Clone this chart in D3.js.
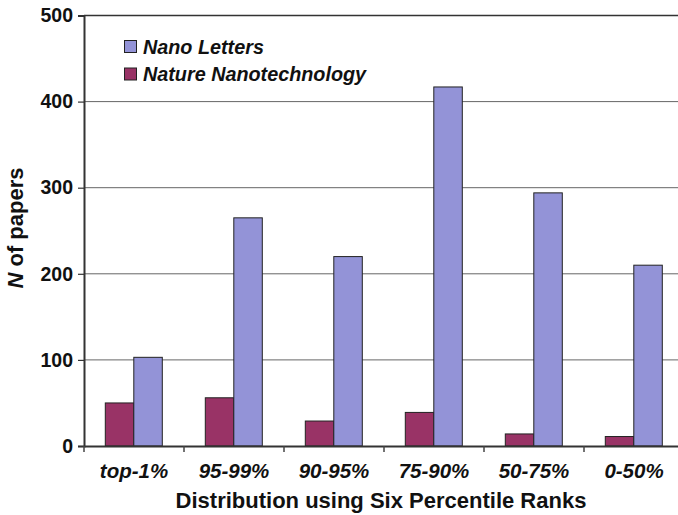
<!DOCTYPE html>
<html><head><meta charset="utf-8">
<script src="https://cdn.jsdelivr.net/npm/d3@7/dist/d3.min.js"></script>
<style>body{margin:0;background:#fff}svg{display:block;font-family:"Liberation Sans",Arial,sans-serif}</style>
</head><body>
<script>
const categories = ["top-1%","95-99%","90-95%","75-90%","50-75%","0-50%"];
const seriesNames = ["Nature Nanotechnology","Nano Letters"];
const natureNano = [50,56,29,39,14,11];
const nanoLetters = [103,265,220,417,294,210];
const yTicks = [0,100,200,300,400,500];
const colors = {"Nano Letters":"#9393d7","Nature Nanotechnology":"#993366"};

const W=678,H=515;
const m={left:84,top:15.5,right:-6,bottom:69};
const svg=d3.select("body").append("svg").attr("width",W).attr("height",H);
const x=d3.scaleBand().domain(categories).range([m.left,W-m.right]);
const y=d3.scaleLinear().domain([0,500]).range([H-m.bottom,m.top]);
const inner=d3.scaleBand().domain(seriesNames).range([21.3,21.3+57]);

// grid
svg.append("g").selectAll("line").data(yTicks.filter(d=>d>0)).join("line")
  .attr("x1",m.left).attr("x2",W).attr("y1",d=>y(d)).attr("y2",d=>y(d))
  .attr("stroke",d=>d===500?"#333":"#666").attr("stroke-width",d=>d===500?1.6:1);

const data=categories.map((c,i)=>({c,vals:[{s:"Nature Nanotechnology",v:natureNano[i]},{s:"Nano Letters",v:nanoLetters[i]}]}));
const g=svg.append("g");
data.forEach(d=>{
  d.vals.forEach(b=>{
    g.append("rect").attr("x",x(d.c)+inner(b.s)).attr("width",inner.bandwidth())
      .attr("y",y(b.v)).attr("height",y(0)-y(b.v))
      .attr("fill",colors[b.s]).attr("stroke","#222").attr("stroke-width",1);
  });
});

// y axis
const ya=svg.append("g").attr("transform",`translate(${m.left},0)`)
  .call(d3.axisLeft(y).tickValues(yTicks).tickSize(6).tickPadding(5));
ya.select(".domain").attr("stroke","#333").attr("stroke-width",2);
ya.selectAll(".tick line").attr("stroke","#333").attr("stroke-width",1.2);
ya.selectAll("text").attr("font-size",19.5).attr("font-weight","bold").attr("fill","#111")
  .attr("font-family","Liberation Sans, Arial, sans-serif");

// x axis
const xa=svg.append("g").attr("transform",`translate(0,${y(0)})`)
  .call(d3.axisBottom(x).tickSize(0).tickPadding(17));
xa.select(".domain").attr("stroke","#333").attr("stroke-width",2);
xa.selectAll("text").attr("font-size",20.5).attr("font-weight","bold").attr("font-style","italic")
  .attr("fill","#111").attr("font-family","Liberation Sans, Arial, sans-serif");
svg.append("g").selectAll("line").data(categories).join("line")
  .attr("x1",d=>x(d)).attr("x2",d=>x(d)).attr("y1",y(0)).attr("y2",y(0)+6)
  .attr("stroke","#444").attr("stroke-width",1.5);

// axis titles
svg.append("text").attr("x",(84+684)/2-3).attr("y",508).attr("text-anchor","middle")
  .attr("font-size",22).attr("font-weight","bold").attr("fill","#111")
  .text("Distribution using Six Percentile Ranks");
const yt=svg.append("text").attr("transform",`translate(23,${228}) rotate(-90)`)
  .attr("text-anchor","middle").attr("font-size",22).attr("font-weight","bold").attr("fill","#111");
yt.append("tspan").attr("font-style","italic").text("N");
yt.append("tspan").text(" of papers");

// legend
const legendItems=["Nano Letters","Nature Nanotechnology"];
const lg=svg.append("g");
legendItems.forEach((s,i)=>{
  lg.append("rect").attr("x",124.5).attr("y",40.5+i*27.5).attr("width",12).attr("height",12)
    .attr("fill",colors[s]).attr("stroke","#222").attr("stroke-width",1);
  lg.append("text").attr("x",143).attr("y",53.5+i*27.5).attr("font-size",19.8)
    .attr("font-weight","bold").attr("font-style","italic").attr("fill","#111").text(s);
});
</script>
</body></html>
